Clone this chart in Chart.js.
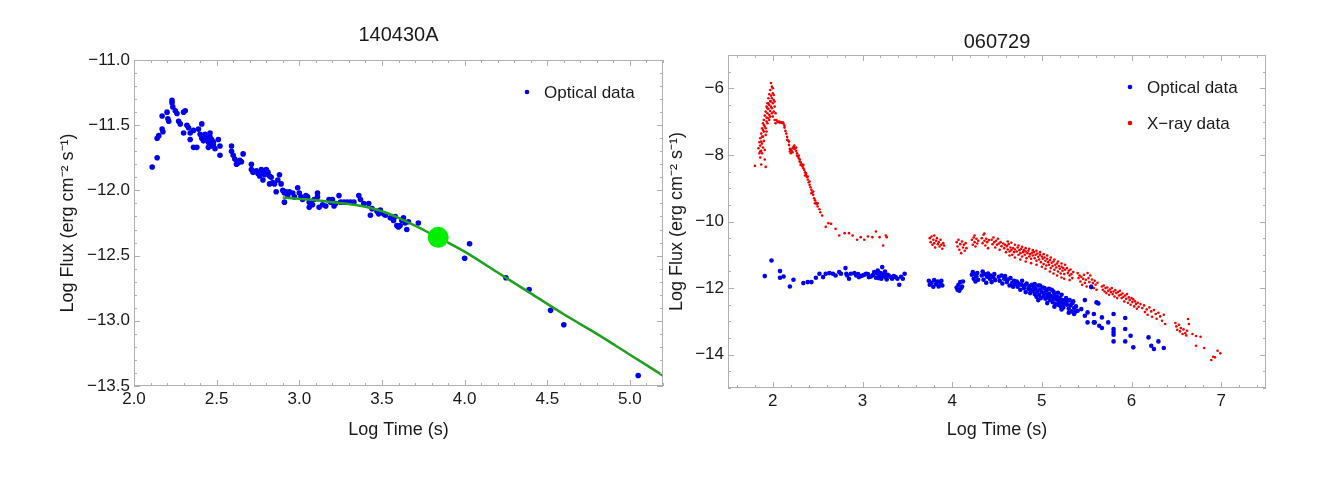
<!DOCTYPE html>
<html>
<head>
<meta charset="utf-8">
<script src="https://cdn.jsdelivr.net/npm/chart.js@4.4.0/dist/chart.umd.min.js"></script>
<style>
  body { margin: 0; background: #fff; }
  #wrap { position: relative; width: 1327px; height: 495px; }
  #grbA { position: absolute; left: 0; top: 0; }
  #grbB { position: absolute; left: 665px; top: 0; }
</style>
</head>
<body>
<div id="wrap">
  <canvas id="grbA" width="665" height="495"></canvas>
  <canvas id="grbB" width="662" height="495"></canvas>
</div>
<script>
// ---- 140430A : optical light curve (log t, log flux) ----
const opticalA = [
  [2.11,-11.82],[2.14,-11.75],[2.14,-11.60],[2.15,-11.58],[2.17,-11.53],[2.175,-11.55],[2.17,-11.43],
  [2.20,-11.40],[2.205,-11.45],[2.21,-11.47],[2.23,-11.31],[2.23,-11.33],[2.235,-11.36],[2.25,-11.39],
  [2.26,-11.41],[2.27,-11.47],[2.28,-11.49],[2.30,-11.40],[2.31,-11.39],[2.32,-11.50],[2.30,-11.56],
  [2.33,-11.52],[2.34,-11.56],[2.34,-11.61],[2.36,-11.54],[2.36,-11.67],[2.38,-11.67],[2.39,-11.53],
  [2.41,-11.49],[2.40,-11.57],[2.41,-11.60],[2.42,-11.62],[2.43,-11.57],[2.44,-11.60],[2.45,-11.63],
  [2.46,-11.56],[2.46,-11.59],[2.47,-11.61],[2.48,-11.65],[2.49,-11.68],[2.48,-11.63],[2.47,-11.66],
  [2.45,-11.67],[2.51,-11.61],[2.52,-11.66],[2.52,-11.73],
  [2.59,-11.66],[2.59,-11.70],[2.60,-11.73],[2.61,-11.76],[2.62,-11.80],[2.63,-11.79],[2.64,-11.77],
  [2.65,-11.78],[2.66,-11.72],
  [2.71,-11.80],[2.71,-11.84],[2.72,-11.86],[2.74,-11.85],[2.75,-11.87],[2.76,-11.89],[2.77,-11.84],
  [2.78,-11.86],[2.79,-11.88],[2.80,-11.84],[2.81,-11.86],[2.82,-11.89],[2.83,-11.90],[2.84,-11.94],
  [2.85,-11.95],[2.88,-11.88],[2.87,-11.92],[2.89,-11.95],[2.86,-12.01],[2.82,-11.95],[2.78,-11.92],
  [2.90,-12.00],[2.91,-12.02],[2.92,-12.01],[2.91,-12.09],[2.93,-12.04],[2.94,-12.01],[2.96,-12.02],
  [2.97,-12.05],[2.99,-11.98],[3.00,-12.02],[3.01,-12.05],[3.02,-12.07],[3.04,-12.04],[3.05,-12.05],
  [3.06,-12.09],[3.06,-12.13],[3.07,-12.10],[3.08,-12.11],[3.09,-12.07],[3.11,-12.02],[3.11,-12.05],
  [3.12,-12.13],[3.14,-12.11],[3.16,-12.12],[3.18,-12.07],[3.19,-12.09],[3.20,-12.07],[3.21,-12.12],
  [3.22,-12.10],[3.24,-12.04],[3.25,-12.09],[3.27,-12.09],[3.29,-12.09],[3.31,-12.09],[3.33,-12.09],
  [3.36,-12.04],[3.37,-12.07],[3.39,-12.10],[3.42,-12.10],[3.43,-12.19],[3.44,-12.14],[3.47,-12.16],
  [3.48,-12.18],[3.49,-12.15],[3.51,-12.18],[3.52,-12.19],[3.55,-12.21],[3.57,-12.23],[3.58,-12.20],
  [3.59,-12.27],[3.60,-12.28],[3.61,-12.27],[3.62,-12.23],[3.63,-12.21],[3.64,-12.25],[3.65,-12.30],
  [3.66,-12.24],[3.72,-12.25],
  [4.00,-12.52],[4.03,-12.41],[4.25,-12.67],[4.39,-12.76],[4.52,-12.92],[4.60,-13.03],[5.05,-13.42]
];
// fitted curve
const fitA = [
  [2.90,-12.055],[3.00,-12.065],[3.10,-12.075],[3.20,-12.09],[3.30,-12.105],[3.40,-12.125],
  [3.50,-12.16],[3.60,-12.21],[3.70,-12.27],[3.80,-12.335],[3.90,-12.40],[4.00,-12.47],
  [4.20,-12.63],[4.40,-12.79],[4.60,-12.95],[4.80,-13.10],[5.00,-13.26],[5.20,-13.42]
];
const breakA = [[3.84,-12.36]];
const xTicksA = [2.0, 2.5, 3.0, 3.5, 4.0, 4.5, 5.0];
const yTicksA = [-13.5, -13.0, -12.5, -12.0, -11.5, -11.0];

// ---- 060729 : optical and X-ray ----
const opticalB = [
  [1.91,-11.64],[1.985,-11.17],[2.08,-11.49],[2.08,-11.69],[2.12,-11.65],[2.19,-11.95],[2.23,-11.75],
  [2.34,-11.85],[2.39,-11.82],[2.43,-11.82],[2.48,-11.69],[2.52,-11.57],[2.56,-11.67],[2.59,-11.57],
  [2.63,-11.55],[2.67,-11.57],[2.70,-11.62],[2.74,-11.52],[2.76,-11.57],[2.81,-11.40],[2.82,-11.57],
  [2.83,-11.62],[2.85,-11.72],[2.87,-11.57],[2.91,-11.55],[2.93,-11.62],[2.96,-11.67],[3.00,-11.62],
  [3.04,-11.57],[3.07,-11.67],[3.11,-11.62],[3.13,-11.52],[3.15,-11.69],[3.17,-11.47],[3.19,-11.62],
  [3.21,-11.72],[3.22,-11.37],[3.24,-11.57],[3.26,-11.67],[3.29,-11.62],[3.33,-11.72],[3.37,-11.67],
  [3.39,-11.72],[3.41,-11.90],[3.45,-11.72],[3.47,-11.57],
  [2.95,-11.58],[2.98,-11.64],[3.02,-11.60],[3.06,-11.58],[3.09,-11.66],[3.12,-11.60],[3.16,-11.56],
  [3.18,-11.70],[3.20,-11.55],[3.23,-11.64],[3.25,-11.50],[3.27,-11.74],[3.28,-11.60],[3.31,-11.66],
  [3.35,-11.64],[3.43,-11.66],
  [3.74,-11.78],[3.75,-11.90],[3.77,-11.84],[3.79,-11.96],[3.80,-11.76],[3.82,-11.88],[3.84,-11.80],
  [3.85,-11.95],[3.87,-11.86],[3.89,-11.92],[3.88,-11.78],
  [4.05,-11.98],[4.06,-12.05],[4.07,-11.90],[4.08,-12.08],[4.09,-11.82],[4.10,-12.00],[4.11,-11.95],
  [4.12,-11.80],
  [4.22,-11.60],[4.23,-11.52],[4.24,-11.72],[4.25,-11.58],[4.26,-11.80],[4.27,-11.65],[4.28,-11.55],
  [4.29,-11.75],
  [4.33,-11.62],[4.34,-11.50],[4.35,-11.75],[4.36,-11.58],[4.38,-11.84],[4.39,-11.66],[4.40,-11.56],
  [4.42,-11.72],[4.43,-11.62],[4.44,-11.82],[4.46,-11.68],[4.47,-11.58],[4.48,-11.76],
  [4.52,-11.66],[4.53,-11.78],[4.55,-11.62],[4.56,-11.86],[4.58,-11.72],[4.59,-11.64],[4.61,-11.82],
  [4.62,-11.74],[4.64,-11.92],[4.65,-11.70],[4.67,-11.84],[4.68,-11.96],[4.69,-11.78],[4.70,-11.88],
  [4.72,-11.80],[4.73,-11.96],[4.74,-11.86],[4.76,-12.05],[4.77,-11.90],[4.78,-11.78],[4.80,-12.00],
  [4.81,-11.92],[4.82,-12.12],[4.83,-11.86],[4.85,-12.02],[4.86,-11.94],[4.87,-12.15],[4.88,-12.04],
  [4.89,-11.90],
  [4.90,-12.08],[4.91,-11.96],[4.92,-12.18],[4.93,-12.02],[4.94,-12.26],[4.95,-12.10],[4.96,-11.92],
  [4.97,-12.20],[4.98,-12.05],[4.99,-12.30],[5.00,-12.12],[5.01,-11.98],[5.02,-12.24],[5.03,-12.14],
  [5.04,-12.32],[5.05,-12.06],[5.06,-12.20],[5.07,-12.28],
  [5.08,-12.16],[5.09,-12.36],[5.10,-12.24],[5.11,-12.05],[5.12,-12.42],[5.13,-12.30],[5.14,-12.18],
  [5.15,-12.48],[5.16,-12.34],[5.17,-12.26],[5.18,-12.50],[5.19,-12.40],[5.20,-12.30],[5.21,-12.55],
  [5.22,-12.44],[5.23,-12.36],[5.24,-12.58],[5.25,-12.46],[5.26,-12.40],
  [5.28,-12.50],[5.29,-12.38],[5.30,-12.62],[5.32,-12.52],[5.33,-12.70],[5.34,-12.45],[5.36,-12.60],
  [5.37,-12.72],[5.38,-12.55],[5.40,-12.68],
  [4.92,-11.88],[4.98,-11.92],[5.03,-12.00],[5.08,-12.02],[5.13,-12.10],[5.18,-12.14],[5.22,-12.20],
  [5.27,-12.30],[5.31,-12.36],[5.35,-12.40],[4.96,-12.36],[5.06,-12.45],[5.14,-12.56],[5.22,-12.64],
  [5.30,-12.74],[5.36,-12.78],
  [5.44,-12.63],[5.48,-12.83],[5.48,-12.36],[5.51,-12.73],[5.51,-13.03],[5.55,-11.97],[5.58,-12.78],
  [5.58,-13.03],[5.59,-13.03],[5.61,-12.43],[5.63,-12.46],[5.64,-13.13],[5.67,-12.88],[5.67,-13.20],
  [5.74,-13.03],[5.80,-12.78],[5.80,-13.23],[5.80,-13.32],[5.80,-13.40],[5.80,-13.60],[5.93,-12.90],
  [5.93,-13.23],[5.93,-13.60],[5.99,-13.43],[6.02,-13.78],[6.19,-13.48],[6.22,-13.73],[6.25,-13.83],
  [6.30,-13.60],[6.36,-13.80]
];
const xrayB = [
  [1.80,-8.33],[1.84,-7.80],[1.85,-7.95],[1.85,-7.62],[1.86,-8.08],[1.86,-7.72],[1.86,-7.50],
  [1.87,-8.29],[1.87,-7.88],[1.87,-7.36],[1.88,-7.66],[1.88,-7.20],[1.88,-7.95],[1.89,-7.45],
  [1.89,-7.05],[1.89,-7.78],[1.90,-7.58],[1.90,-6.95],[1.90,-7.30],[1.91,-8.14],[1.91,-7.85],
  [1.91,-6.82],[1.91,-7.15],[1.92,-8.36],[1.92,-7.40],[1.92,-6.70],[1.93,-7.00],[1.93,-6.55],
  [1.93,-6.88],[1.94,-6.45],[1.94,-6.75],[1.94,-7.05],[1.95,-6.30],[1.95,-6.62],[1.95,-6.90],
  [1.96,-6.18],[1.96,-6.50],[1.96,-6.80],[1.97,-6.05],[1.97,-6.38],[1.97,-6.68],[1.98,-5.84],
  [1.98,-6.22],[1.98,-6.55],[1.99,-5.95],[1.99,-6.30],[1.99,-6.60],[2.00,-6.15],[2.00,-6.45],
  [2.00,-6.85],[2.01,-6.35],[2.01,-6.70],[2.02,-6.55],[2.02,-6.95],[2.03,-6.75],[2.03,-7.05],
  [2.04,-6.95],
  [1.86,-7.90],[1.87,-7.60],[1.88,-7.45],[1.89,-7.25],[1.90,-7.10],[1.92,-7.20],[1.93,-7.30],
  [1.94,-6.60],[1.95,-6.45],[1.96,-6.95],[1.97,-6.85],[1.98,-6.40],[1.99,-6.75],[2.00,-6.00],
  [2.01,-6.20],[2.02,-6.40],
  [2.05,-7.00],[2.06,-7.02],[2.07,-7.00],[2.08,-7.03],[2.09,-7.01],[2.10,-7.04],[2.11,-7.02],
  [2.12,-7.06],[2.13,-7.12],
  [2.13,-7.18],[2.14,-7.28],[2.15,-7.36],[2.16,-7.46],[2.17,-7.56],[2.18,-7.70],[2.19,-7.82],
  [2.19,-7.90],[2.20,-7.95],[2.21,-7.88],[2.22,-7.80],[2.23,-7.76],[2.24,-7.72],[2.24,-7.82],
  [2.25,-7.80],[2.26,-7.88],[2.27,-7.95],[2.27,-8.02],[2.28,-8.05],[2.29,-8.10],[2.30,-8.14],
  [2.30,-8.20],[2.31,-8.22],[2.32,-8.28],[2.33,-8.35],[2.33,-8.30],[2.34,-8.40],[2.35,-8.45],
  [2.36,-8.52],[2.37,-8.60],[2.37,-8.55],[2.38,-8.66],[2.39,-8.74],[2.40,-8.82],[2.41,-8.90],
  [2.42,-8.97],[2.43,-9.05],[2.44,-9.12],[2.45,-9.20],[2.46,-9.30],[2.47,-9.36],[2.48,-9.43],
  [2.49,-9.48],[2.50,-9.55],[2.52,-9.63],[2.53,-9.72],[2.55,-9.82],
  [2.16,-7.55],[2.18,-7.60],[2.20,-7.85],[2.22,-7.92],[2.26,-7.78],[2.29,-8.02],[2.31,-8.30],
  [2.34,-8.30],[2.36,-8.62],[2.39,-8.65],[2.41,-8.80],[2.43,-9.15],[2.45,-9.10],[2.47,-9.45],
  [2.50,-9.45],
  [2.59,-10.16],[2.62,-10.05],[2.65,-10.07],[2.70,-10.22],[2.74,-10.42],[2.80,-10.35],[2.85,-10.35],
  [2.89,-10.42],[2.94,-10.55],[2.98,-10.47],[3.02,-10.55],[3.06,-10.45],[3.11,-10.47],[3.15,-10.30],
  [3.19,-10.47],[3.23,-10.72],[3.26,-10.42],[3.27,-10.47],
  [3.75,-10.50],[3.76,-10.62],[3.77,-10.45],[3.78,-10.70],[3.79,-10.55],[3.80,-10.42],[3.80,-10.65],
  [3.81,-10.78],[3.82,-10.58],[3.83,-10.50],[3.84,-10.68],[3.85,-10.62],[3.86,-10.75],[3.87,-10.55],
  [3.88,-10.70],[3.89,-10.82],[3.90,-10.65],[3.91,-10.72],
  [4.05,-10.62],[4.06,-10.75],[4.07,-10.55],[4.08,-10.85],[4.09,-10.68],[4.10,-10.95],[4.11,-10.60],
  [4.12,-10.78],[4.13,-10.70],[4.14,-10.88],[4.15,-10.65],[4.16,-10.80],
  [4.22,-10.55],[4.23,-10.70],[4.24,-10.48],[4.25,-10.62],[4.26,-10.75],[4.27,-10.52],[4.28,-10.66],
  [4.29,-10.58],[4.25,-10.42],
  [4.33,-10.50],[4.34,-10.65],[4.35,-10.40],[4.36,-10.58],[4.37,-10.72],[4.38,-10.52],[4.39,-10.62],
  [4.40,-10.80],[4.41,-10.56],[4.36,-10.36],
  [4.44,-10.55],[4.45,-10.68],[4.46,-10.48],[4.47,-10.62],[4.48,-10.78],[4.49,-10.58],[4.50,-10.70],
  [4.51,-10.52],[4.52,-10.66],[4.53,-10.85],[4.54,-10.62],[4.55,-10.74],
  [4.57,-10.66],[4.58,-10.80],[4.59,-10.70],[4.60,-10.92],[4.61,-10.74],[4.62,-10.84],[4.63,-10.68],
  [4.64,-10.90],[4.65,-10.78],[4.66,-10.86],[4.67,-11.00],[4.68,-10.80],[4.69,-10.92],[4.70,-10.84],
  [4.72,-10.90],[4.73,-10.78],[4.74,-11.00],[4.75,-10.86],[4.76,-10.95],[4.77,-10.82],[4.78,-11.05],
  [4.79,-10.92],[4.80,-10.86],[4.81,-11.00],[4.82,-10.90],[4.83,-11.10],[4.84,-10.95],[4.85,-10.88],
  [4.86,-11.05],[4.87,-10.98],[4.88,-11.12],[4.89,-10.94],
  [4.90,-11.02],[4.91,-10.92],[4.92,-11.10],[4.93,-11.00],[4.94,-11.18],[4.95,-10.96],[4.96,-11.06],
  [4.97,-11.14],[4.98,-11.00],[4.99,-11.22],[5.00,-11.05],[5.01,-11.12],[5.02,-11.28],[5.03,-11.08],
  [5.04,-11.18],[5.05,-11.32],[5.06,-11.12],[5.07,-11.22],
  [5.08,-11.30],[5.09,-11.16],[5.10,-11.40],[5.11,-11.24],[5.12,-11.34],[5.13,-11.20],[5.14,-11.45],
  [5.15,-11.30],[5.16,-11.38],[5.17,-11.26],[5.18,-11.50],[5.19,-11.34],[5.20,-11.42],[5.21,-11.56],
  [5.22,-11.36],[5.23,-11.48],[5.24,-11.40],[5.25,-11.58],[5.26,-11.45],
  [4.62,-10.60],[4.66,-10.64],[4.70,-10.70],[4.74,-10.72],[4.78,-10.76],[4.82,-10.80],[4.86,-10.82],
  [4.90,-10.86],[4.94,-10.88],[4.98,-10.92],[5.02,-10.98],[5.06,-11.02],[5.10,-11.08],[5.14,-11.14],
  [5.18,-11.20],[5.22,-11.26],[5.26,-11.30],
  [4.64,-11.02],[4.70,-11.08],[4.76,-11.14],[4.82,-11.20],[4.88,-11.25],[4.94,-11.30],[5.00,-11.36],
  [5.04,-11.42],[5.09,-11.50],[5.13,-11.56],[5.17,-11.62],[5.22,-11.68],[5.25,-11.72],[5.31,-11.76],
  [5.28,-11.40],[5.29,-11.55],[5.30,-11.48],[5.31,-11.62],[5.32,-11.44],[5.33,-11.58],[5.34,-11.70],
  [5.35,-11.52],
  [5.40,-11.55],[5.41,-11.70],[5.42,-11.62],[5.43,-11.80],[5.44,-11.66],[5.45,-11.90],[5.46,-11.72],
  [5.47,-11.60],[5.48,-11.84],[5.49,-11.75],[5.50,-11.95],[5.51,-11.55],[5.52,-11.70],[5.53,-11.82],
  [5.54,-11.62],[5.55,-11.92],[5.56,-11.74],[5.57,-11.85],[5.58,-12.00],[5.59,-11.78],[5.60,-11.90],
  [5.61,-12.05],[5.62,-11.84],
  [5.67,-11.95],[5.68,-12.05],[5.69,-11.92],[5.70,-12.10],[5.71,-12.00],[5.72,-12.15],[5.73,-11.98],
  [5.74,-12.08],[5.75,-12.20],[5.76,-12.04],[5.77,-12.12],[5.78,-12.00],[5.79,-12.18],[5.80,-12.10],
  [5.81,-12.25],[5.82,-12.06],[5.83,-12.15],[5.84,-12.30],[5.85,-12.12],[5.86,-12.22],[5.87,-12.08],
  [5.88,-12.20],
  [5.89,-12.30],[5.90,-12.16],[5.91,-12.26],[5.92,-12.40],[5.93,-12.22],[5.94,-12.32],[5.95,-12.18],
  [5.96,-12.44],[5.97,-12.28],[5.98,-12.36],[5.99,-12.50],[6.00,-12.30],[6.01,-12.42],[6.02,-12.34],
  [6.03,-12.55],[6.04,-12.40],[6.05,-12.48],[6.06,-12.62],[6.07,-12.44],[6.08,-12.56],[6.10,-12.48],
  [6.12,-12.60],[6.14,-12.52],[6.15,-12.72],[6.17,-12.64],[6.18,-12.80],[6.20,-12.58],[6.22,-12.70],
  [6.23,-12.86],[6.25,-12.66],[6.27,-12.78],[6.28,-12.92],[6.30,-12.74],[6.32,-12.85],[6.34,-12.98],
  [6.36,-12.80],[6.375,-13.08],
  [6.49,-13.05],[6.50,-13.15],[6.51,-13.25],[6.53,-13.10],[6.54,-13.30],[6.55,-13.20],[6.57,-13.38],
  [6.58,-13.24],[6.60,-13.35],[6.61,-13.42],[6.62,-13.28],[6.63,-12.93],[6.64,-13.08],
  [6.68,-13.38],[6.72,-13.44],[6.77,-13.46],[6.72,-13.73],[6.81,-13.80],[6.89,-14.16],[6.93,-14.08],
  [6.96,-13.88],[6.99,-13.96],[6.91,-14.06]
];
const xTicksB = [2, 3, 4, 5, 6, 7];
const yTicksB = [-14, -12, -10, -8, -6];

const BLUE = 'rgb(0,0,238)';
const RED = 'rgb(240,0,0)';
const FONT = '"Liberation Sans", Arial, sans-serif';
const YTITLE = 'Log Flux (erg cm\u207B\u00B2 s\u207B\u00B9)';

function pts(arr) {
  return arr.map(function (p) { return { x: p[0], y: p[1] }; });
}

function minusSign(s) {
  return String(s).replace('-', '\u2212');
}

// Mathematica-like frame: gray box, inward ticks on all four sides, title and legend
const frameTicks = {
  id: 'frameTicks',
  afterDatasetsDraw(chart, args, o) {
    const ctx = chart.ctx, a = chart.chartArea;
    const xs = chart.scales.x, ys = chart.scales.y;
    ctx.save();
    ctx.strokeStyle = '#b0b0b0';
    ctx.lineWidth = 1;
    ctx.strokeRect(Math.round(a.left) + 0.5, Math.round(a.top) + 0.5,
      Math.round(a.right - a.left) - 1, Math.round(a.bottom - a.top) - 1);
    ctx.beginPath();
    function xTick(v, len) {
      const px = Math.round(xs.getPixelForValue(v)) + 0.5;
      ctx.moveTo(px, a.bottom); ctx.lineTo(px, a.bottom - len);
      ctx.moveTo(px, a.top); ctx.lineTo(px, a.top + len);
    }
    function yTick(v, len) {
      const py = Math.round(ys.getPixelForValue(v)) + 0.5;
      ctx.moveTo(a.left, py); ctx.lineTo(a.left + len, py);
      ctx.moveTo(a.right, py); ctx.lineTo(a.right - len, py);
    }
    for (let i = Math.ceil(xs.min / o.xMinor - 1e-6); i * o.xMinor <= xs.max + 1e-6; i++) xTick(i * o.xMinor, 3);
    for (let i = Math.ceil(ys.min / o.yMinor - 1e-6); i * o.yMinor <= ys.max + 1e-6; i++) yTick(i * o.yMinor, 3);
    o.xMajor.forEach(function (v) { xTick(v, 6); });
    o.yMajor.forEach(function (v) { yTick(v, 6); });
    ctx.stroke();

    ctx.fillStyle = '#1a1a1a';
    ctx.textAlign = 'center';
    ctx.textBaseline = 'middle';
    ctx.font = '20px ' + FONT;
    ctx.fillText(o.title, (a.left + a.right) / 2, o.titleY);

    ctx.font = '17px ' + FONT;
    ctx.textAlign = 'left';
    o.legend.forEach(function (item, i) {
      const cx = a.right - 136, cy = a.top + 32 + i * 36;
      ctx.fillStyle = item.color;
      ctx.beginPath();
      ctx.arc(cx, cy, 2.3, 0, Math.PI * 2);
      ctx.fill();
      ctx.fillStyle = '#1a1a1a';
      ctx.fillText(item.text, cx + 17, cy + 1);
    });
    ctx.restore();
  }
};

function makeScales(xr, yr, xTicks, yTicks, yw, xh, yTitlePad, fmtX, fmtY) {
  return {
    x: {
      type: 'linear', min: xr[0], max: xr[1],
      afterBuildTicks: function (s) { s.ticks = xTicks.map(function (v) { return { value: v }; }); },
      // fixed box, no extra room for the end labels
      afterFit: function (s) { s.height = xh; s.paddingLeft = 0; s.paddingRight = 0; },
      grid: { display: false, drawTicks: false },
      border: { display: false },
      ticks: { padding: 3, color: '#1a1a1a', font: { family: FONT, size: 17 }, callback: fmtX, maxRotation: 0 },
      title: { display: true, text: 'Log Time (s)', color: '#1a1a1a', font: { family: FONT, size: 18 },
               padding: { top: 0, bottom: 54 } }
    },
    y: {
      type: 'linear', min: yr[0], max: yr[1],
      afterBuildTicks: function (s) { s.ticks = yTicks.map(function (v) { return { value: v }; }); },
      afterFit: function (s) { s.width = yw; s.paddingTop = 0; s.paddingBottom = 0; },
      grid: { display: false, drawTicks: false },
      border: { display: false },
      ticks: { padding: 4, color: '#1a1a1a', font: { family: FONT, size: 17 }, callback: fmtY },
      title: { display: true, text: YTITLE, color: '#1a1a1a', font: { family: FONT, size: 18 },
               padding: { top: yTitlePad, bottom: 0 } }
    }
  };
}

const common = {
  responsive: false,
  animation: false,
  events: [],
  plugins: { legend: { display: false }, tooltip: { enabled: false } }
};

// left panel: 140430A
new Chart(document.getElementById('grbA'), {
  type: 'scatter',
  data: {
    datasets: [
      { label: 'break', data: pts(breakA), order: 0, pointRadius: 10.5, pointBackgroundColor: '#00ee00',
        pointBorderWidth: 0, showLine: false },
      { label: 'fit', data: pts(fitA), order: 1, showLine: true, pointRadius: 0, borderColor: '#1fa01f',
        borderWidth: 2.5, cubicInterpolationMode: 'monotone' },
      { label: 'Optical data', data: pts(opticalA), order: 2, pointRadius: 2.8, pointBackgroundColor: BLUE,
        pointBorderWidth: 0, showLine: false }
    ]
  },
  options: Object.assign({}, common, {
    // autoPadding off so the big break marker does not shrink the plot box
    layout: { autoPadding: false, padding: { left: 0, right: 2, top: 60, bottom: 0 } },
    scales: makeScales([2.0, 5.2], [-13.5, -11.0], xTicksA, yTicksA, 134, 109, 57,
      function (v) { return Number(v).toFixed(1); },
      function (v) { return minusSign(Number(v).toFixed(1)); }),
    plugins: Object.assign({}, common.plugins, {
      frameTicks: { title: '140430A', titleY: 35, xMajor: xTicksA, yMajor: yTicksA, xMinor: 0.1, yMinor: 0.1,
                    legend: [{ text: 'Optical data', color: BLUE }] }
    })
  }),
  plugins: [frameTicks]
});

// right panel: 060729
new Chart(document.getElementById('grbB'), {
  type: 'scatter',
  data: {
    datasets: [
      { label: 'Optical data', data: pts(opticalB), order: 0, pointRadius: 2.3, pointBackgroundColor: BLUE,
        pointBorderWidth: 0, showLine: false },
      { label: 'X-ray data', data: pts(xrayB), order: 1, pointRadius: 1.3, pointBackgroundColor: RED,
        pointBorderWidth: 0, showLine: false }
    ]
  },
  options: Object.assign({}, common, {
    layout: { autoPadding: false, padding: { left: 0, right: 61, top: 55, bottom: 0 } },
    scales: makeScales([1.5, 7.5], [-15, -5], xTicksB, yTicksB, 63, 107, 1,
      function (v) { return String(v); },
      function (v) { return minusSign(v); }),
    plugins: Object.assign({}, common.plugins, {
      frameTicks: { title: '060729', titleY: 42, xMajor: xTicksB, yMajor: yTicksB, xMinor: 0.2, yMinor: 0.5,
                    legend: [{ text: 'Optical data', color: BLUE }, { text: 'X\u2212ray data', color: RED }] }
    })
  }),
  plugins: [frameTicks]
});
</script>
</body>
</html>
